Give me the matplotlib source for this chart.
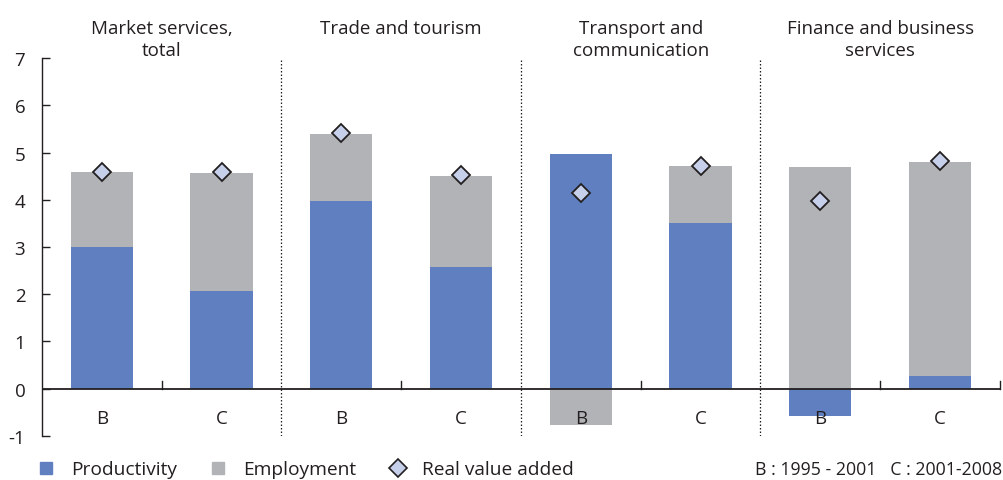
import matplotlib
matplotlib.use('Agg')
import matplotlib.pyplot as plt
from matplotlib.lines import Line2D
import numpy as np

# Values (percent)
groups = ['Market services,\ntotal', 'Trade and tourism',
          'Transport and\ncommunication', 'Finance and business\nservices']
periods = ['B', 'C', 'B', 'C', 'B', 'C', 'B', 'C']
productivity = [3.0, 2.07, 3.97, 2.57, 4.97, 3.51, -0.58, 0.27]
employment = [1.58, 2.5, 1.43, 1.93, -0.77, 1.2, 4.69, 4.53]
real_value_added = [4.58, 4.58, 5.42, 4.52, 4.14, 4.72, 3.98, 4.81]
period_note = 'B : 1995 - 2001   C : 2001-2008'

blue = '#5f7fc0'
grey = '#b2b3b7'
diamond = '#c7d0ea'
dark = '#231f20'
fs = 13.5

plt.rcParams['font.family'] = ['Open Sans', 'DejaVu Sans']

fig = plt.figure(figsize=(10.04, 4.81), dpi=100)
ax = fig.add_axes([0.0418, 0.0915, 0.9542, 0.7858])

x = np.arange(len(periods)) + 0.5
w = 0.52
prod = np.array(productivity)
emp = np.array(employment)

# stack: positive parts upward from 0, negative parts downward
emp_bottom = np.where((emp >= 0) & (prod >= 0), prod, 0.0)
ax.bar(x, prod, w, color=blue, zorder=2)
ax.bar(x, emp, w, bottom=emp_bottom, color=grey, zorder=2)
ax.plot(x, real_value_added, linestyle='none', marker='D', markersize=9.5,
        markerfacecolor=diamond, markeredgecolor=dark, markeredgewidth=1.3, zorder=3)

ax.set_xlim(0, 8)
ax.set_ylim(-1, 7)
ax.set_yticks(range(-1, 8))
ax.set_yticklabels(['-1'] + [str(i) for i in range(0, 8)])
ax.tick_params(axis='y', direction='in', length=6, width=1, pad=12,
               labelsize=fs, color=dark, labelcolor=dark)
ax.set_xticks([])
for s in ['top', 'right', 'bottom']:
    ax.spines[s].set_visible(False)
ax.spines['left'].set_color(dark)
ax.spines['left'].set_linewidth(1)

ax.axhline(0, color=dark, linewidth=1.3, zorder=4)
# small upward ticks on the zero line
for b in [1, 3, 5, 7, 8]:
    ax.plot([b, b], [0, 0.17], color=dark, linewidth=1, zorder=4, clip_on=False)

for b in [2, 4, 6]:
    ax.plot([b, b], [-1, 7], color=dark, linewidth=0.9, linestyle=(0, (1.2, 1.6)),
            zorder=1)

for xi, p in zip(x, periods):
    ax.text(xi, -0.62, p, ha='center', va='center', fontsize=fs, color=dark, zorder=5)

for i, g in enumerate(groups):
    ax.text(2 * i + 1, 7.82, g, ha='center', va='top', fontsize=fs,
            color=dark, linespacing=1.3, clip_on=False)

handles = [
    Line2D([], [], linestyle='none', marker='s', markersize=8.6, color=blue),
    Line2D([], [], linestyle='none', marker='s', markersize=8.6, color=grey),
    Line2D([], [], linestyle='none', marker='D', markersize=9,
           markerfacecolor=diamond, markeredgecolor=dark, markeredgewidth=1.2),
]
fig.legend(handles, ['Productivity', 'Employment', 'Real value added'],
           loc='center left', bbox_to_anchor=(0.0364, 0.022), ncol=3, frameon=False,
           fontsize=13.8, handlelength=1.0, handletextpad=0.8, columnspacing=1.65,
           borderpad=0, borderaxespad=0, labelcolor=dark)
fig.text(0.998, 0.022, period_note, ha='right', va='center', fontsize=12.8, color=dark)

fig.savefig('out.png', dpi=100)
